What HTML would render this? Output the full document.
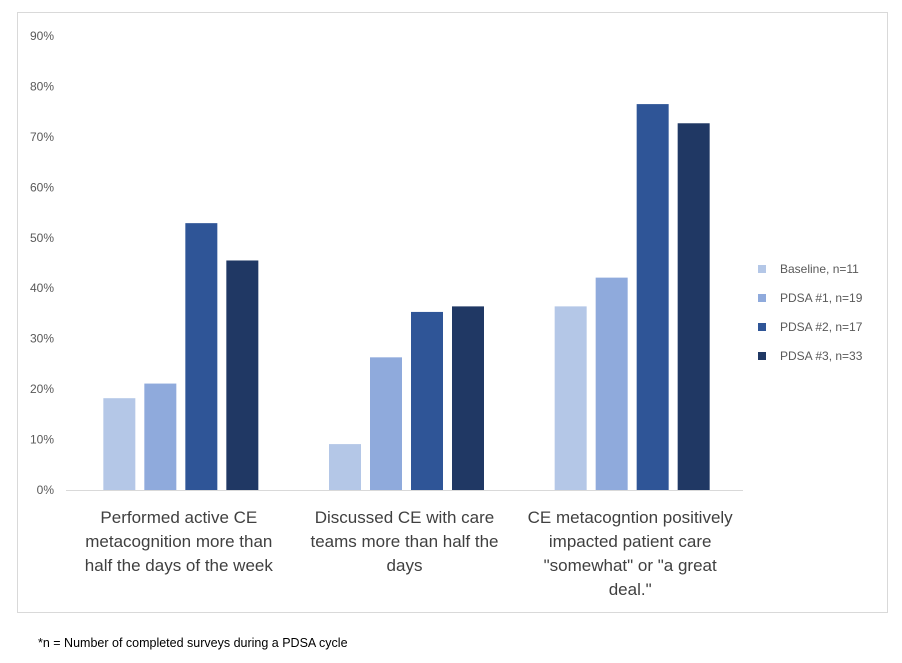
<!DOCTYPE html>
<html><head><meta charset="utf-8"><style>
body{margin:0;background:#fff;width:902px;height:658px;overflow:hidden;font-family:"Liberation Sans",sans-serif}
</style></head><body>
<svg width="902" height="658">
<rect x="17.5" y="12.5" width="870" height="600" fill="#fff" stroke="#d9d9d9"/>
<g id="grid"></g><g id="bars"></g><g id="xlabels"></g><g id="legend"></g>
<text x="38" y="647" font-size="12.5" fill="#000">*n = Number of completed surveys during a PDSA cycle</text>
</svg>
<script>
const categories=[["Performed active CE","metacognition more than","half the days of the week"],["Discussed CE  with care","teams more than half the","days"],["CE metacogntion positively","impacted patient care","\"somewhat\" or \"a great","deal.\""]];
const seriesNames=["Baseline, n=11","PDSA #1, n=19","PDSA #2, n=17","PDSA #3, n=33"];
const baseline=[18.2,9.1,36.4];
const pdsa1=[21.1,26.3,42.1];
const pdsa2=[52.9,35.3,76.5];
const pdsa3=[45.5,36.4,72.7];
const ticks=[0,10,20,30,40,50,60,70,80,90];
const colors=["#b4c7e7","#8faadc","#2f5597","#203864"];
const series=[baseline,pdsa1,pdsa2,pdsa3];
const NS="http://www.w3.org/2000/svg";
const x0=66,x1=743,y0=490,yTop=36,maxV=90;
const y=v=>y0-(v/maxV)*(y0-yTop);
const gw=(x1-x0)/categories.length;
function mk(t,a,p){const e=document.createElementNS(NS,t);for(const k in a)e.setAttribute(k,a[k]);p.appendChild(e);return e;}
const grid=document.getElementById('grid');
ticks.forEach(t=>{
  const l=mk('text',{x:54,y:y(t)+4,'font-size':12,fill:'#595959','text-anchor':'end'},grid);
  l.textContent=t+'%';
  
  
});
const ax=mk('line',{x1:x0,x2:x1,y1:y0+0.5,y2:y0+0.5,stroke:'#d9d9d9'},grid);


const bars=document.getElementById('bars');
const bw=32,step=41;
categories.forEach((c,i)=>{
  const cx=x0+gw*(i+0.5);
  series.forEach((s,j)=>{
    const bx=cx-2*step+(step-bw)/2+j*step+2;
    const r=mk('rect',{x:bx,y:y(s[i]),width:bw,height:y0-y(s[i]),fill:colors[j]},bars);
    
    
  });
  c.forEach((ln,k)=>{
    const t=mk('text',{x:cx,y:523+k*24,'font-size':17,fill:'#404040','text-anchor':'middle'},document.getElementById('xlabels'));
    t.textContent=ln;
    
    
  });
});
const lg=document.getElementById('legend');
seriesNames.forEach((n,j)=>{
  const yy=269+j*29;
  const r=mk('rect',{x:758,y:yy-4,width:8,height:8,fill:colors[j]},lg);
  
  
  const t=mk('text',{x:780,y:yy+4,'font-size':12,fill:'#595959'},lg);
  t.textContent=n;
  
  
});
</script>
</body></html>
